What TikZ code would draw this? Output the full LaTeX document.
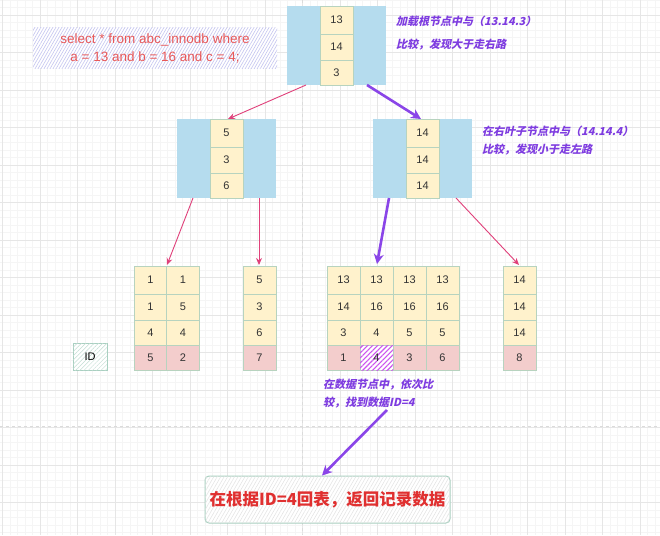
\documentclass[tikz,border=0pt]{standalone}
\usepackage{fontspec}
\setmainfont{Liberation Sans}
\newfontfamily\cjk{Noto Sans CJK SC}
\newfontfamily\cjkit[FakeSlant=0.22]{Noto Sans CJK SC}
\usetikzlibrary{patterns.meta,arrows.meta}
\definecolor{gridc}{HTML}{E6E6E6}
\definecolor{gridm}{HTML}{F5F5F5}
\definecolor{blueb}{HTML}{B5DCEE}
\definecolor{cellf}{HTML}{FFF2CC}
\definecolor{celld}{HTML}{B7D3BF}
\definecolor{pinkf}{HTML}{F3CDCC}
\definecolor{arrp}{HTML}{E0407A}
\definecolor{arrv}{HTML}{8A45E8}
\definecolor{notec}{HTML}{7E3CE0}
\definecolor{sqlc}{HTML}{E85858}
\definecolor{redc}{HTML}{E03030}
\definecolor{hatchb}{HTML}{C4C4F0}
\definecolor{hatchg}{HTML}{D6D6D6}
\definecolor{hatchm}{HTML}{CC55EE}
\definecolor{boxd}{HTML}{A8CFC0}
\tikzset{
  x=1pt, y=-1pt,
  cell/.style={draw=celld, fill=cellf, line width=0.8pt, minimum width=33pt, inner sep=0pt, font=\fontsize{11}{13}\selectfont, text=black!80},
  idcell/.style={cell, fill=pinkf},
  pinkarr/.style={draw=arrp, line width=0.9pt, -{Stealth[length=7pt,width=6pt]}},
  violarr/.style={draw=arrv, line width=2.6pt, -{Stealth[length=10pt,width=10pt]}},
  note/.style={text=notec, font=\cjkit\bfseries\fontsize{11}{18}\selectfont, align=left, anchor=north west, inner sep=0pt},
}
\begin{document}
\begin{tikzpicture}
\useasboundingbox[fill=white] (0,0) rectangle (660,535);
% grid
\foreach \x in {2.5,10,...,660} \draw[gridm, line width=0.4pt] (\x,0) -- (\x,535);
\foreach \y in {0,7.5,...,535} \draw[gridm, line width=0.4pt] (0,\y) -- (660,\y);
\foreach \x in {2.5,40,...,660} \draw[gridc, line width=0.6pt] (\x,0) -- (\x,535);
\foreach \y in {15,52.5,...,535} \draw[gridc, line width=0.6pt] (0,\y) -- (660,\y);
\draw[gridc!85!black!60, line width=1pt, dash pattern=on 3pt off 3pt] (302,0) -- (302,535);
\draw[gridc!85!black!60, line width=1pt, dash pattern=on 3pt off 3pt] (0,426) -- (660,426);

% SQL box
\node[minimum width=244pt, minimum height=40pt, inner sep=0pt, fill=white,
  postaction={pattern={Lines[angle=60,distance=2.6pt,line width=0.6pt]}, pattern color=hatchb},
  text=sqlc, align=center, font=\fontsize{13.5}{18}\selectfont] (sql) at (155,48)
  {select * from abc\_innodb where\\a = 13 and b = 16 and c = 4;};

% root node
\fill[blueb] (287,6) rectangle (386,85);
\node[cell, minimum height=28pt] (r1) at (336.5,20) {13};
\node[cell, minimum height=26pt] (r2) at (336.5,47) {14};
\node[cell, minimum height=25pt] (r3) at (336.5,72.5) {3};
\coordinate (rootL) at (306,85);
\coordinate (rootR) at (367,85);

% left internal node
\fill[blueb] (177,119) rectangle (276,198);
\node[cell, minimum height=28pt] (l1) at (226.5,133) {5};
\node[cell, minimum height=26pt] (l2) at (226.5,160) {3};
\node[cell, minimum height=25pt] (l3) at (226.5,185.5) {6};
\coordinate (lin) at (228,119);
\coordinate (lout1) at (193,198);
\coordinate (lout2) at (259,198);

% right internal node
\fill[blueb] (373,119) rectangle (472,198);
\node[cell, minimum height=28pt] (m1) at (422.5,133) {14};
\node[cell, minimum height=26pt] (m2) at (422.5,160) {14};
\node[cell, minimum height=25pt] (m3) at (422.5,185.5) {14};
\coordinate (min) at (421,119);
\coordinate (mout1) at (389,198);
\coordinate (mout2) at (456,198);

% notes
\node[note, font=\cjkit\bfseries\fontsize{11}{23}\selectfont] (n1) at (396,16) {加载根节点中与（13.14.3）\\比较，发现大于走右路};
\node[note] (n2) at (482,126) {在右叶子节点中与（14.14.4）\\比较，发现小于走左路};
\node[note] (n3) at (323,379) {在数据节点中，依次比\\较，找到数据ID=4};

% leaves: rows 266-294, 294-320, 320-345, 345-370
\newcommand{\leafcol}[6]{%
  \node[cell, minimum height=28pt] (#1a) at (#2,280) {#3};
  \node[cell, minimum height=26pt] (#1b) at (#2,307) {#4};
  \node[cell, minimum height=25pt] (#1c) at (#2,332.5) {#5};
  \node[idcell, minimum height=25pt] (#1d) at (#2,357.5) {#6};}
\leafcol{pa}{150.5}{1}{1}{4}{5}
\leafcol{pb}{183}{1}{5}{4}{2}
\leafcol{qa}{259.5}{5}{3}{6}{7}
\leafcol{sa}{343.5}{13}{14}{3}{1}
\leafcol{sb}{376.5}{13}{16}{4}{4}
\leafcol{sc}{409.5}{13}{16}{5}{3}
\leafcol{sd}{442.5}{13}{16}{5}{6}
\leafcol{ta}{519.5}{14}{14}{14}{8}
% highlighted id cell
\node[cell, minimum height=25pt, fill=white,
  postaction={pattern={Lines[angle=45,distance=3.5pt,line width=1.1pt]}, pattern color=hatchm}] (sbd) at (376.5,357.5) {4};

% ID legend
\node[draw=boxd, line width=0.8pt, fill=white, minimum width=34pt, minimum height=27pt, inner sep=0pt,
  postaction={pattern={Lines[angle=45,distance=3pt,line width=0.5pt]}, pattern color=boxd!70},
  font=\fontsize{11}{13}\selectfont] (idl) at (90,356.5) {ID};

% result box
\node[draw=boxd, line width=1pt, rounded corners=4pt, fill=white, minimum width=245pt, minimum height=47pt, inner sep=0pt,
  postaction={pattern={Lines[angle=60,distance=3pt,line width=0.5pt]}, pattern color=hatchg!70},
  text=redc, font=\cjk\bfseries\fontsize{16.5}{20}\selectfont] (res) at (327.5,499.5) {在根据ID=4回表，返回记录数据};

% arrows
\coordinate (pain) at (167,265);
\coordinate (qain) at (259,265);
\coordinate (sbin) at (377,264);
\coordinate (tain) at (519,265);
\coordinate (fstart) at (387,410);
\draw[pinkarr] (rootL) -- (lin);
\draw[violarr] (rootR) -- (min);
\draw[pinkarr] (lout1) -- (pain);
\draw[pinkarr] (lout2) -- (qain);
\draw[violarr] (mout1) -- (sbin);
\draw[pinkarr] (mout2) -- (tain);
\draw[violarr] (fstart) -- (res.north -| 322,0);
\end{tikzpicture}
\end{document}
